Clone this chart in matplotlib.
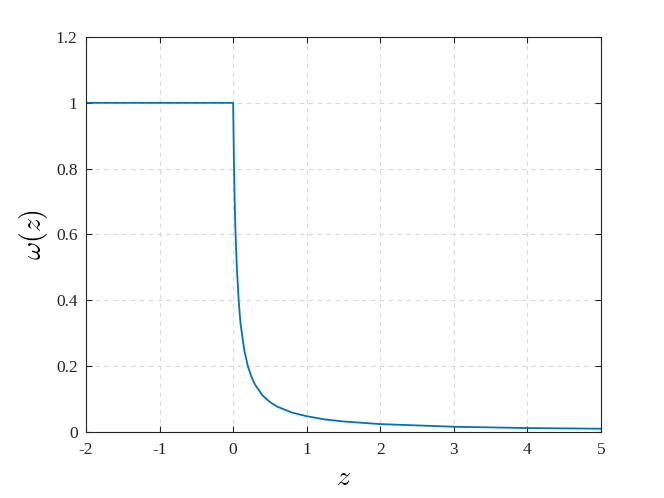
import matplotlib.pyplot as plt

# ==================== 数据 ====================
z_vals = [-2.0, 0.0, 0.0, 0.01, 0.02, 0.03, 0.05, 0.075, 0.1, 0.15, 0.2, 0.25,
          0.3, 0.4, 0.5, 0.6, 0.8, 1.0, 1.25, 1.5, 2.0, 2.5, 3.0, 3.5,
          4.0, 4.5, 5.0]
w_vals = [1.0, 1.0, 1.0, 0.83, 0.71, 0.62, 0.50, 0.40, 0.33, 0.25, 0.20, 0.167,
          0.143, 0.111, 0.091, 0.077, 0.059, 0.048, 0.038, 0.032, 0.024, 0.020,
          0.016, 0.014, 0.012, 0.011, 0.010]
x_ticks = [-2, -1, 0, 1, 2, 3, 4, 5]
y_ticks = [0, 0.2, 0.4, 0.6, 0.8, 1.0, 1.2]
y_tick_labels = ["0", "0.2", "0.4", "0.6", "0.8", "1", "1.2"]

# ==================== 样式 ====================
plt.rcParams["font.family"] = ["Liberation Serif", "DejaVu Serif"]
plt.rcParams["mathtext.fontset"] = "cm"
plt.rcParams["axes.unicode_minus"] = False

fig = plt.figure(figsize=(6.64, 4.98), dpi=100)
ax = fig.add_axes([86 / 664, 66 / 498, 515 / 664, 395 / 498])

ax.plot(z_vals, w_vals, color="#0072BD", linewidth=1.3)

ax.set_xlim(-2, 5)
ax.set_ylim(0, 1.2)
ax.set_xticks(x_ticks)
ax.set_yticks(y_ticks)
ax.set_yticklabels(y_tick_labels)
ax.grid(True, linestyle=(0, (4, 4)), color="#d9d9d9", linewidth=0.8)

ax.tick_params(direction="in", top=True, right=True, length=4,
               labelsize=12.5, colors="#262626", width=0.8)
ax.tick_params(axis="x", pad=7)
ax.tick_params(axis="y", pad=6)
for sp in ax.spines.values():
    sp.set_color("#262626")
    sp.set_linewidth(0.8)

ax.set_xlabel(r"$z$", fontsize=20, labelpad=6)
ax.set_ylabel(r"$\omega(z)$", fontsize=20, labelpad=4)

fig.savefig("out.png", dpi=100)
